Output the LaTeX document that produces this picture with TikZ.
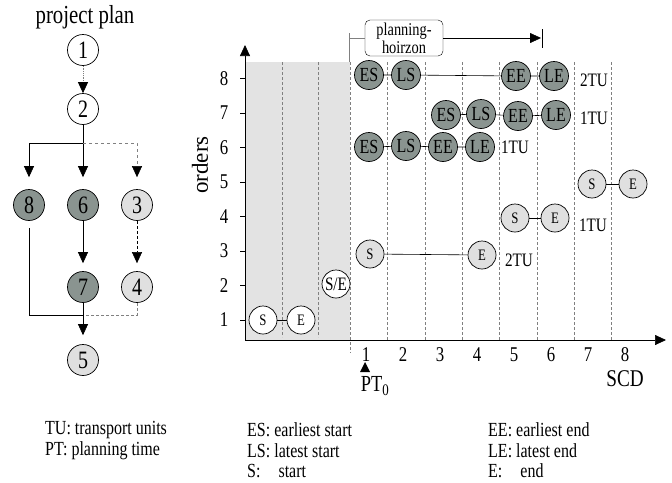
\documentclass[tikz,border=0pt]{standalone}
\usepackage{fontspec}
\setmainfont[FakeStretch=0.8]{Liberation Serif}
\newfontfamily\plainserif{Liberation Serif}
\usetikzlibrary{arrows.meta}
\definecolor{dk}{HTML}{8A9490}
\definecolor{lt}{HTML}{E0E0E0}
\definecolor{shd}{HTML}{E3E3E3}
\definecolor{gl}{HTML}{808080}
\newcommand\myfs[1]{\fontsize{#1pt}{#1pt}\selectfont}
\begin{document}
\begin{tikzpicture}[x=1pt,y=-1pt,
  arr/.style={-{Triangle[length=11pt,width=10pt,color=black]}},
  pn/.style={circle,draw,line width=0.7pt,minimum size=31pt,inner sep=0pt,font=\myfs{25}},
  pw/.style={pn,fill=white},
  pd/.style={pn,fill=dk},
  pl/.style={pn,fill=lt},
  cd/.style={circle,draw,line width=0.7pt,fill=dk,minimum size=29pt,inner sep=0pt,font=\myfs{20}},
  cl/.style={circle,draw,line width=0.7pt,fill=lt,minimum size=28pt,inner sep=0pt,font=\myfs{16}},
  cw/.style={cl,fill=white},
  grid/.style={gl,densely dashed,line width=0.5pt},
  link/.style={line width=0.6pt},
  tu/.style={font=\myfs{19},inner sep=0pt},
  ax/.style={font=\myfs{21},inner sep=0pt},
  leg/.style={font=\myfs{20},anchor=west,inner sep=0pt}
]
\useasboundingbox (0,0) rectangle (672,482);

% ---------- project plan ----------
\node[font=\myfs{26},inner sep=0pt] (title) at (85,17) {project plan};
\node[pw] (n1) at (83,50) {1};
\node[pw] (n2) at (83,109) {2};
\node[pd] (n8) at (29,205) {8};
\node[pd] (n6) at (83,205) {6};
\node[pl] (n3) at (137,205) {3};
\node[pd] (n7) at (83,287) {7};
\node[pl] (n4) at (137,287) {4};
\node[pl] (n5) at (83,360) {5};
\coordinate (br) at (83,143);
\coordinate (jn) at (83,315);

\draw[arr,gl,densely dotted,line width=0.8pt] (n1) -- (n2);
\draw[link] (n2) -- (br);
\draw[arr,link] (br) -| ([yshift=12pt]n8.north);
\draw[arr,link] (br) -- ([yshift=12pt]n6.north);
\draw[arr,gl,dashed] (br) -| ([yshift=12pt]n3.north);
\draw[arr,link] (n6) -- ([yshift=8pt]n7.north);
\draw[arr,densely dashed] (n3) -- ([yshift=8pt]n4.north);
\draw[link] ([yshift=-7pt]n8.south) |- (jn);
\draw[gl,densely dashed] (n4) |- (jn);
\draw[arr,link] (n7) -- ([yshift=9pt]n5.north);

% ---------- chart ----------
\fill[shd] (245,62) rectangle (350,340);
\foreach \x in {282,318} \draw[grid] (\x,62) -- (\x,337);
\draw[grid] (350,62) -- (350,353);
\foreach \x in {387,425,462,499,537,574,611} \draw[grid] (\x,62) -- (\x,340);

\coordinate (org) at (245,340);
\coordinate (ytop) at (245,45);
\coordinate (xend) at (666,340);
\draw[arr,line width=0.7pt] (org) -- (ytop);
\draw[arr,line width=0.7pt] (org) -- (xend);

\foreach \i [evaluate=\i as \yy using 320-34.5*(\i-1)] in {1,...,8} {
  \draw (240,\yy) -- (245,\yy);
  \node[ax] (yl\i) at (224,\yy) {\i};
}
\foreach \i [evaluate=\i as \xx using 366+37*(\i-1)] in {1,...,8} {
  \node[ax] (xl\i) at (\xx,355) {\i};
}
\node[font={\plainserif\myfs{23}},rotate=90,inner sep=0pt] (orders) at (200,165) {orders};
\node[font=\myfs{24},inner sep=0pt] (scd) at (625,379) {SCD};
\fill (360,372) -- (370,372) -- (365,362) -- cycle;
\node[font=\myfs{23},inner sep=0pt] (pt) at (375,386) {PT\textsubscript{0}};

% planning horizon
\node[draw,rounded corners=5pt,minimum width=78pt,minimum height=36pt,inner sep=0pt,align=center,font=\fontsize{18pt}{18pt}\selectfont] (ph) at (404,38) {planning-\\hoirzon};
\coordinate (phl) at (349,38);
\coordinate (phb1) at (349,33);
\coordinate (phb2) at (349,62);
\coordinate (phr) at (541,38);
\coordinate (pht1) at (542,29);
\coordinate (pht2) at (542,48);
\draw[gl,line width=0.8pt] (phb1) -- (phb2);
\draw[gl] (phl) -- (ph);
\draw[arr] (ph) -- (phr);
\draw (pht1) -- (pht2);

% row 8
\node[cd] (es8) at (369,75) {ES};
\node[cd] (ls8) at (406,75) {LS};
\node[cd] (ee8) at (516,76) {EE};
\node[cd] (le8) at (554,76) {LE};
\draw[link] (es8) -- (ls8) -- (ee8) -- (le8);
\node[tu] (tu8) at (594,80) {2TU};
% row 7
\node[cd] (es7) at (446,115) {ES};
\node[cd] (ls7) at (481,114) {LS};
\node[cd] (ee7) at (518,116) {EE};
\node[cd] (le7) at (556,115) {LE};
\draw[link] (es7) -- (ls7) -- (ee7) -- (le7);
\node[tu] (tu7) at (594,118) {1TU};
% row 6
\node[cd] (es6) at (369,147) {ES};
\node[cd] (ls6) at (406,146) {LS};
\node[cd] (ee6) at (443,147) {EE};
\node[cd] (le6) at (480,147) {LE};
\draw[link] (es6) -- (ls6) -- (ee6) -- (le6);
\node[tu] (tu6) at (515,147) {1TU};
% row 5
\node[cl] (s5) at (592,184) {S};
\node[cl] (e5) at (633,184) {E};
\draw[link] (s5) -- (e5);
% row 4
\node[cl] (s4) at (515,218) {S};
\node[cl] (e4) at (555,218) {E};
\draw[link] (s4) -- (e4);
\node[tu] (tu4) at (593,225) {1TU};
% row 3
\node[cl] (s3) at (370,254) {S};
\node[cl] (e3) at (482,255) {E};
\draw[link] (s3) -- (e3);
\node[tu] (tu3) at (519,260) {2TU};
% row 2
\node[cw,font=\myfs{19}] (se2) at (336,284) {S/E};
% row 1
\node[cw] (s1) at (263,320) {S};
\node[cw] (e1) at (301,320) {E};
\draw[link] (s1) -- (e1);

% ---------- legend ----------
\node[leg] (lg1) at (45,430) {TU: transport units};
\node[leg] (lg2) at (45,451) {PT: planning time};
\node[leg] (lg3) at (247,430) {ES: earliest start};
\node[leg] (lg4) at (247,451) {LS: latest start};
\node[leg] (lg5) at (247,471) {S:\hspace{0.9em}start};
\node[leg] (lg6) at (488,430) {EE: earliest end};
\node[leg] (lg7) at (488,451) {LE: latest end};
\node[leg] (lg8) at (488,471) {E:\hspace{0.9em}end};
\end{tikzpicture}
\end{document}
